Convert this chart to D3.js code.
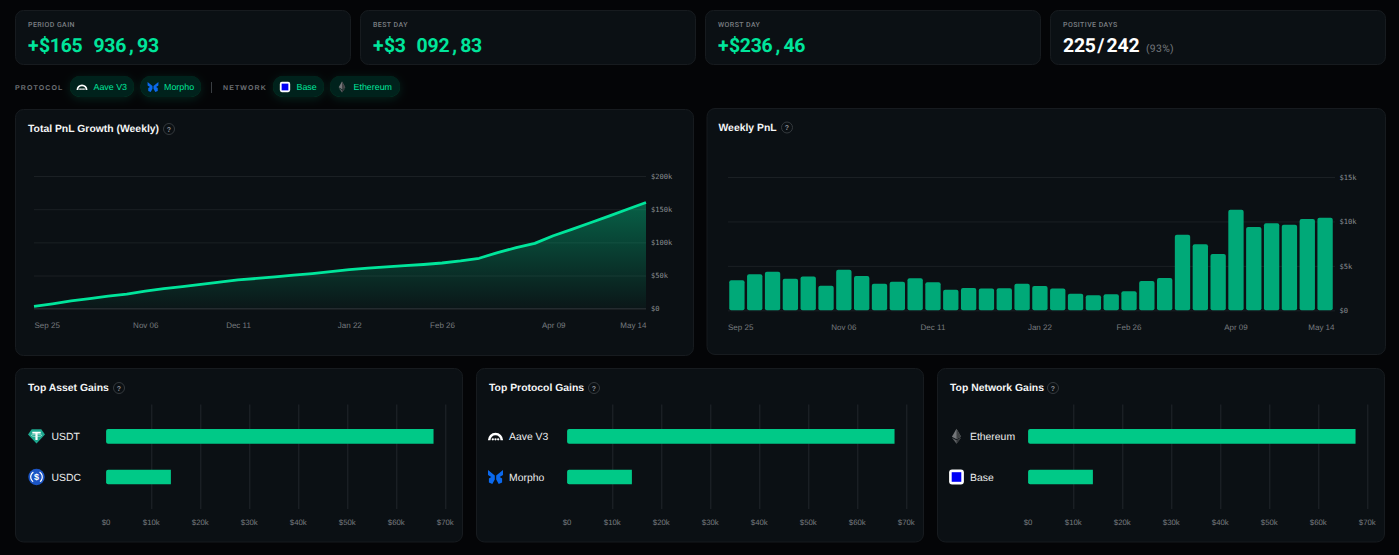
<!DOCTYPE html>
<html>
<head>
<meta charset="utf-8">
<script src="https://cdn.jsdelivr.net/npm/d3@7/dist/d3.min.js"></script>
<style>
  html, body { margin: 0; padding: 0; background: #040507; overflow: hidden; }
  svg { display: block; text-rendering: geometricPrecision; }
  text { font-family: "Liberation Sans", Arial, sans-serif; }
  .mono { font-family: "DejaVu Sans Mono", "Liberation Mono", monospace; }
  .figure { font-family: Roboto, "Liberation Sans", sans-serif; }
  .axis .domain { display: none; }
</style>
</head>
<body>
<svg id="board" width="1399" height="555"></svg>
<script>
// ---- dashboard figures ----
const statLabels = ["PERIOD GAIN", "BEST DAY", "WORST DAY", "POSITIVE DAYS"];
const statValues = ["+$165 936,93", "+$3 092,83", "+$236,46", "225/242"];
const positiveShare = "(93%)";

const weeks = ["Sep 25","Oct 02","Oct 09","Oct 16","Oct 23","Oct 30","Nov 06","Nov 13","Nov 20","Nov 27",
  "Dec 04","Dec 11","Dec 18","Dec 25","Jan 01","Jan 08","Jan 15","Jan 22","Jan 29","Feb 05","Feb 12",
  "Feb 19","Feb 26","Mar 05","Mar 12","Mar 19","Mar 26","Apr 02","Apr 09","Apr 16","Apr 23","Apr 30",
  "May 07","May 14"];
const weekTicks = ["Sep 25","Nov 06","Dec 11","Jan 22","Feb 26","Apr 09","May 14"];

const totalPnl = [3400,7400,11800,15300,19100,21900,26500,30300,33300,36500,40100,43300,45600,48100,
  50600,53000,56000,58800,61200,63100,64800,66600,68900,72000,76000,84500,92000,98500,110000,119500,
  129500,139500,149800,160000];
const weeklyPnl = [3370,4050,4350,3560,3790,2770,4570,3860,3000,3220,3600,3150,2320,2510,2440,2470,
  3000,2740,2440,1870,1690,1800,2140,3300,3640,8510,7420,6340,11320,9370,9790,9640,10270,10420];
const totalTicks = [0,50000,100000,150000,200000];
const weeklyTicks = [0,5000,10000,15000];

const assetNames = ["USDT","USDC"];
const assetGains = [67600,14000];
const protocolNames = ["Aave V3","Morpho"];
const protocolGains = [67600,14000];
const networkNames = ["Ethereum","Base"];
const networkGains = [67600,14000];
const gainTicks = [0,10000,20000,30000,40000,50000,60000,70000];

// ---- palette ----
const GREEN = "#00e59b", BAR = "#00a978", HBAR = "#00c987";
const PANEL = "#0b1014", EDGE = "#171b1f", GRID = "#1b2024";
const MUTED = "#777b7f";

const svg = d3.select("#board");
const defs = svg.append("defs");

const fade = defs.append("linearGradient").attr("id", "pnlFade")
  .attr("x1", 0).attr("x2", 0).attr("y1", 0).attr("y2", 1);
fade.append("stop").attr("offset", 0).attr("stop-color", GREEN).attr("stop-opacity", 0.38);
fade.append("stop").attr("offset", 1).attr("stop-color", GREEN).attr("stop-opacity", 0.03);

const glow = defs.append("filter").attr("id", "chipGlow")
  .attr("x", "-30%").attr("y", "-60%").attr("width", "160%").attr("height", "240%");
glow.append("feDropShadow").attr("dx", 0).attr("dy", 2).attr("stdDeviation", 5)
  .attr("flood-color", GREEN).attr("flood-opacity", 0.13);

function panel(x, y, w, h, r) {
  svg.append("rect").attr("x", x + .5).attr("y", y + .5).attr("width", w - 1).attr("height", h - 1)
    .attr("rx", r).attr("fill", PANEL).attr("stroke", EDGE);
}

function title(x, y, label, helpX) {
  svg.append("text").attr("x", x).attr("y", y + 3.7).attr("font-size", 10.4).attr("font-weight", 700)
    .attr("fill", "#f4f5f6").text(label);
  svg.append("circle").attr("cx", helpX).attr("cy", y + .5).attr("r", 5.5)
    .attr("fill", "none").attr("stroke", "#34393d");
  svg.append("text").attr("x", helpX).attr("y", y + 3).attr("text-anchor", "middle")
    .attr("font-size", 7).attr("font-weight", 700).attr("fill", "#8b8f93").text("?");
}

// ---- icons, each drawn around its own centre ----
function icon(kind, cx, cy, s) {
  const g = svg.append("g").attr("transform", `translate(${cx},${cy}) scale(${s})`);
  if (kind === "Aave V3") {
    g.append("path").attr("d", "M-7.6 4A7.6 7.6 0 0 1 7.6 4H5A5 5 0 0 0 -5 4Z").attr("fill", "#fff");
    [-2.7, 0, 2.7].forEach(dx => g.append("circle").attr("cx", dx).attr("cy", 3).attr("r", 1.15).attr("fill", "#fff"));
  } else if (kind === "Morpho") {
    g.append("path").attr("d", "M-7.5 -7L-.7 -1.5V2.5L-3.2 7L-6.6 5.6V1.5L-4.2 0L-7.5 -2Z").attr("fill", "#0b69ee");
    g.append("path").attr("d", "M7.5 -7L.7 -1.5V2.5L3.2 7L6.6 5.6V1.5L4.2 0L7.5 -2Z").attr("fill", "#0b69ee");
  } else if (kind === "Base") {
    g.append("rect").attr("x", -7.4).attr("y", -7.4).attr("width", 14.8).attr("height", 14.8).attr("rx", 3).attr("fill", "#fff");
    g.append("rect").attr("x", -4.8).attr("y", -4.8).attr("width", 9.6).attr("height", 9.6).attr("fill", "#0000f5");
  } else if (kind === "Ethereum") {
    g.append("path").attr("d", "M0 -7.5L-4.6 .4L0 3L4.6 .4Z").attr("fill", "#74777a");
    g.append("path").attr("d", "M0 -7.5L0 3L4.6 .4Z").attr("fill", "#3f4244");
    g.append("path").attr("d", "M0 4L-4.6 1.4L0 7.5L4.6 1.4Z").attr("fill", "#5d6063");
    g.append("path").attr("d", "M0 4L0 7.5L4.6 1.4Z").attr("fill", "#34373a");
  } else if (kind === "USDT") {
    g.append("path").attr("d", "M-4.8 -7H4.8L8.5 -1.7L0 7.3L-8.5 -1.7Z").attr("fill", "#1ea88f");
    g.append("path").attr("d", "M-4.2 -4.6H4.2V-2.9H1.1V3.8H-1.1V-2.9H-4.2Z").attr("fill", "#fff");
    g.append("ellipse").attr("cx", 0).attr("cy", -1).attr("rx", 5.2).attr("ry", 1.2)
      .attr("fill", "none").attr("stroke", "#d6f3ec").attr("stroke-width", .6);
  } else if (kind === "USDC") {
    g.append("circle").attr("r", 8.2).attr("fill", "#1c55c4");
    g.append("circle").attr("r", 5.8).attr("fill", "none").attr("stroke", "#fff").attr("stroke-width", 1.2)
      .attr("stroke-dasharray", "11 7.2").attr("transform", "rotate(-58)");
    g.append("text").attr("y", 3.2).attr("text-anchor", "middle").attr("font-size", 9)
      .attr("font-weight", 700).attr("fill", "#fff").text("$");
  }
}

// ---- stat cards ----
const statLefts = [15, 360, 705, 1050];
const figureAdvance = 10.9;   // the headline figures sit on a fixed-width grid
statLabels.forEach((label, i) => {
  const x = statLefts[i];
  panel(x, 10, 336, 55, 8);
  svg.append("text").attr("class", "figure").attr("x", x + 13).attr("y", 26.5).attr("font-size", 7)
    .attr("font-weight", 500).attr("letter-spacing", .42).attr("fill", "#7a7e82").text(label);
  const chars = Array.from(statValues[i]);
  svg.append("text").attr("class", "figure").attr("y", 52).attr("font-size", 19.4)
    .attr("font-weight", 700).attr("fill", i === 3 ? "#ffffff" : GREEN)
    .attr("x", chars.map((c, k) => (x + 13 + k * figureAdvance + (c === "," ? 3 : c === "/" ? 1.5 : 0)).toFixed(1)).join(" "))
    .text(statValues[i]);
});
svg.append("text").attr("class", "figure").attr("x", 1146).attr("y", 51.5).attr("font-size", 10.4)
  .attr("letter-spacing", .3).attr("fill", "#74787c").text(positiveShare);

// ---- filter chips ----
const chipRows = [
  { label: "Aave V3", left: 70, right: 134, iconX: 82, textX: 93.5, scale: .72 },
  { label: "Morpho", left: 140.5, right: 201, iconX: 153, textX: 164, scale: .72 },
  { label: "Base", left: 273, right: 324, iconX: 285, textX: 296.5, scale: .7 },
  { label: "Ethereum", left: 330, right: 400, iconX: 342, textX: 353.5, scale: .72 }
];
chipRows.forEach(c => {
  svg.append("rect").attr("x", c.left).attr("y", 76).attr("width", c.right - c.left).attr("height", 21)
    .attr("rx", 10).attr("fill", "#05231d").attr("filter", "url(#chipGlow)");
  icon(c.label, c.iconX, 87, c.scale);
  svg.append("text").attr("x", c.textX).attr("y", 90.2).attr("font-size", 8.9).attr("fill", GREEN).text(c.label);
});
[["PROTOCOL", 15], ["NETWORK", 223]].forEach(([t, x]) => {
  svg.append("text").attr("x", x).attr("y", 89.5).attr("font-size", 7).attr("font-weight", 700)
    .attr("letter-spacing", 1.1).attr("fill", "#6c7074").text(t);
});
svg.append("line").attr("x1", 211.5).attr("x2", 211.5).attr("y1", 82).attr("y2", 93).attr("stroke", "#3a3e42");

// ---- shared axis styling ----
function styleValueAxis(g) {
  g.attr("class", "axis");
  g.selectAll(".tick line").attr("stroke", GRID);
  g.selectAll(".tick text").attr("class", "mono").attr("font-size", 7.1).attr("fill", "#898d91");
}
function anchorForWeek(d) {
  if (d === weekTicks[0]) return "start";
  return d === weekTicks[weekTicks.length - 1] ? "end" : "middle";
}
const money = d => d === 0 ? "$0" : `$${d / 1000}k`;

// ---- cumulative PnL line ----
panel(15, 109, 679, 247, 8);
title(28, 128.5, "Total PnL Growth (Weekly)", 169);

const lineX = d3.scalePoint().domain(weeks).range([34, 646]);
const lineY = d3.scaleLinear().domain([0, 200000]).range([308.7, 176]);

svg.append("g").attr("transform", "translate(646,0)")
  .call(d3.axisRight(lineY).tickValues(totalTicks).tickFormat(money).tickSize(-612).tickPadding(5))
  .call(styleValueAxis);

const cumulative = weeks.map((w, i) => ({ w, v: totalPnl[i] }));
svg.append("path").datum(cumulative).attr("fill", "url(#pnlFade)")
  .attr("d", d3.area().x(d => lineX(d.w)).y0(lineY(0)).y1(d => lineY(d.v)));
svg.append("line").attr("x1", 34).attr("x2", 646).attr("y1", lineY(0)).attr("y2", lineY(0)).attr("stroke", "#2a3034");
svg.append("path").datum(cumulative).attr("fill", "none").attr("stroke", GREEN).attr("stroke-width", 2.8)
  .attr("stroke-linejoin", "round")
  .attr("d", d3.line().x(d => lineX(d.w)).y(d => lineY(d.v)));

svg.append("g").attr("transform", "translate(0,322.5)")
  .call(d3.axisBottom(lineX).tickValues(weekTicks).tickSize(0).tickPadding(0))
  .call(g => {
    g.attr("class", "axis");
    g.selectAll(".tick text").attr("font-size", 8).attr("fill", MUTED).attr("text-anchor", anchorForWeek);
  });

// ---- weekly PnL bars ----
panel(706.5, 108, 679.5, 247, 8);
title(718.5, 127, "Weekly PnL", 787);

const barX = d3.scaleBand().domain(weeks).range([728, 1334]).paddingInner(.14).paddingOuter(.07);
const barY = d3.scaleLinear().domain([0, 15000]).range([310.3, 177]);

svg.append("g").attr("transform", "translate(1335,0)")
  .call(d3.axisRight(barY).tickValues(weeklyTicks).tickFormat(money).tickSize(-607).tickPadding(4.5))
  .call(styleValueAxis);

svg.append("g").selectAll("rect").data(weeks).join("rect")
  .attr("x", d => barX(d)).attr("width", barX.bandwidth())
  .attr("y", (d, i) => barY(weeklyPnl[i]))
  .attr("height", (d, i) => barY(0) - barY(weeklyPnl[i]))
  .attr("rx", 2).attr("fill", BAR);

const barTickX = d => {
  if (d === weekTicks[0]) return barX.range()[0];
  if (d === weekTicks[weekTicks.length - 1]) return barX.range()[1] + .5;
  return barX(d) + barX.bandwidth() / 2;
};
svg.append("g").attr("class", "axis").attr("transform", "translate(0,330)")
  .selectAll("text").data(weekTicks).join("text")
  .attr("x", barTickX).attr("font-size", 8).attr("fill", MUTED)
  .attr("text-anchor", anchorForWeek).text(d => d);

// ---- ranked gain panels ----
function gainPanel(opts) {
  const { left, heading, helpX, names, gains, labelX, iconX } = opts;
  panel(left, 368, 448, 174.5, 8);
  title(left + 13, 387.5, heading, helpX);

  const x = d3.scaleLinear().domain([0, 70000]).range([left + 87.3, left + 430.3]);
  const y = d3.scalePoint().domain(names).range([436.3, 477]);
  const inset = 3.8;   // bars begin just right of the zero position

  const axis = svg.append("g").attr("transform", "translate(0,509)")
    .call(d3.axisBottom(x).tickValues(gainTicks).tickFormat(money).tickSize(-104.5).tickPadding(10.5))
    .attr("class", "axis");
  axis.selectAll(".tick line").attr("stroke", d => d === 0 ? "none" : "#22272b");
  axis.selectAll(".tick text").attr("font-size", 7.8).attr("fill", MUTED)
    .attr("dx", d => d === 0 ? inset - .5 : -.5);

  names.forEach((name, i) => {
    const x0 = x(0) + inset, x1 = x(gains[i]), yc = y(name), h = 14.7, r = 2;
    svg.append("path").attr("fill", HBAR)
      .attr("d", `M${x0 + r} ${yc - h / 2}H${x1}V${yc + h / 2}H${x0 + r}Q${x0} ${yc + h / 2} ${x0} ${yc + h / 2 - r}V${yc - h / 2 + r}Q${x0} ${yc - h / 2} ${x0 + r} ${yc - h / 2}Z`);
    icon(name, iconX, yc, 1);
    svg.append("text").attr("x", labelX).attr("y", yc + 3.8).attr("font-size", 10.4).attr("fill", "#eceded").text(name);
  });
}
gainPanel({ left: 15, heading: "Top Asset Gains", helpX: 119, names: assetNames, gains: assetGains, labelX: 51.5, iconX: 36.5 });
gainPanel({ left: 476, heading: "Top Protocol Gains", helpX: 594, names: protocolNames, gains: protocolGains, labelX: 509, iconX: 495.5 });
gainPanel({ left: 937, heading: "Top Network Gains", helpX: 1053, names: networkNames, gains: networkGains, labelX: 970, iconX: 956.5 });
</script>
</body>
</html>
